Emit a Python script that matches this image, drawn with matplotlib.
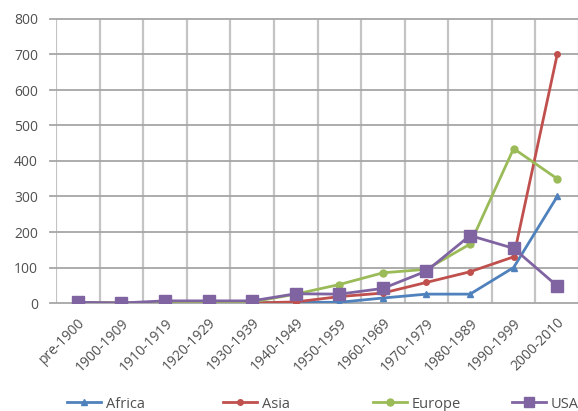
import matplotlib
matplotlib.use("Agg")
import matplotlib.pyplot as plt
import numpy as np

categories = ["pre-1900", "1900-1909", "1910-1919", "1920-1929", "1930-1939",
              "1940-1949", "1950-1959", "1960-1969", "1970-1979", "1980-1989",
              "1990-1999", "2000-2010"]
africa = [0, 0, 0, 0, 0, 2, 2, 14, 25, 25, 100, 300]
asia = [0, 0, 0, 0, 0, 3, 18, 28, 58, 88, 130, 700]
europe = [1, 0, 3, 3, 3, 25, 52, 85, 95, 166, 435, 350]
usa = [2, 0, 6, 6, 6, 26, 25, 41, 90, 190, 154, 48]
y_ticks = [0, 100, 200, 300, 400, 500, 600, 700, 800]

plt.rcParams['font.family'] = ['Open Sans', 'DejaVu Sans']
TXT = "#505050"

fig = plt.figure(figsize=(5.78, 4.11), dpi=100)
W, H = 578, 411
x0, x1 = 56, 579
ytop, ybot = 19, 303
ax = fig.add_axes([x0 / W, 1 - ybot / H, (x1 - x0) / W, (ybot - ytop) / H])

x = np.arange(len(categories))
ax.set_xlim(-0.5, len(categories) - 0.5)
ax.set_ylim(0, 800)

ext = 6 / (x1 - x0)
for yv in y_ticks:
    ax.axhline(yv, xmin=-ext, xmax=1, color="#a6a6a6", lw=1.3, zorder=1, clip_on=False)
for b in np.arange(-0.5, len(categories), 1.0):
    ax.axvline(b, color="#c4c4c4", lw=1.6, zorder=0)

lines = []
lines += ax.plot(x, africa, color="#4F81BD", lw=2, marker="^", ms=4.5, label="Africa", zorder=3)
lines += ax.plot(x, asia, color="#C0504D", lw=2, marker="o", ms=4, label="Asia", zorder=3)
lines += ax.plot(x, europe, color="#9BBB59", lw=2, marker="o", ms=5, label="Europe", zorder=3)
lines += ax.plot(x, usa, color="#8064A2", lw=2, marker="s", ms=8, label="USA", zorder=4)

for s in ax.spines.values():
    s.set_visible(False)

ax.set_yticks(y_ticks)
ax.set_yticklabels([str(v) for v in y_ticks], fontsize=10, color=TXT)
ax.tick_params(axis="y", length=0, pad=13)
ax.set_xticks(x)
ax.set_xticklabels(categories, rotation=45, ha="right", rotation_mode="anchor",
                   fontsize=10, color=TXT)
ax.tick_params(axis="x", length=0, pad=9)

# legend entries placed like the reference (one per series)
leg_x = [67, 223, 373, 512]
leg_y = 1 - 404 / H
msizes = [4, 4, 5, 7]
for ln, lx, ms in zip(lines, leg_x, msizes):
    leg = fig.legend(handles=[ln], loc="center left", bbox_to_anchor=(lx / W, leg_y),
                     frameon=False, fontsize=10.5, borderpad=0, borderaxespad=0,
                     handlelength=2.35, handletextpad=0.3)
    for t in leg.get_texts():
        t.set_color(TXT)
    for h in leg.legend_handles:
        h.set_markersize(ms)

fig.savefig("out.png", dpi=100)
